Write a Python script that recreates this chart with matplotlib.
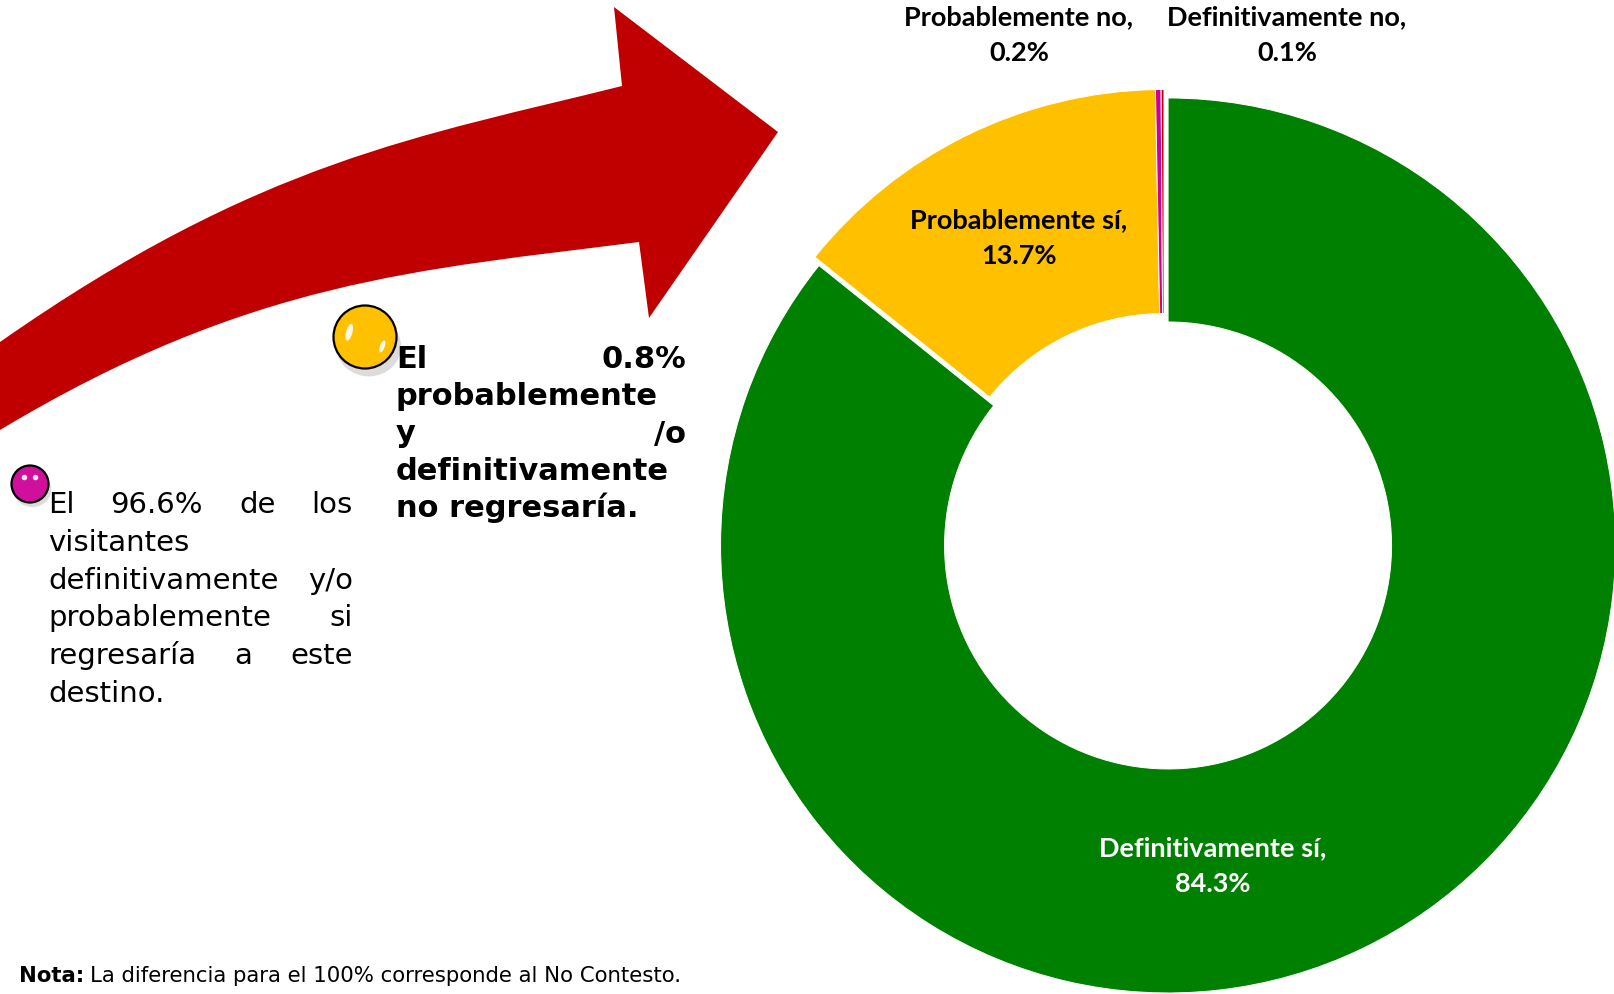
import matplotlib
matplotlib.use("Agg")
import matplotlib.pyplot as plt
from matplotlib.path import Path
from matplotlib.patches import PathPatch, Circle, Ellipse

# datos del grafico
categorias = ["Definitivamente sí", "Probablemente sí", "Probablemente no", "Definitivamente no"]
porcentajes = [84.3, 13.7, 0.2, 0.1]
colores = ["#008000", "#FFC000", "#CC0099", "#C00000"]

texto_si = [["El", "96.6%", "de", "los"], ["visitantes"], ["definitivamente", "y/o"],
            ["probablemente", "si"], ["regresaría", "a", "este"], ["destino."]]
texto_no = [["El", "0.8%"], ["probablemente"], ["y", "/o"], ["definitivamente"],
            ["no", "regresaría."]]
nota = "La diferencia para el 100% corresponde al No Contesto."

W, H = 1614, 994
fig = plt.figure(figsize=(W / 100, H / 100), dpi=100)
ax = fig.add_axes([0, 0, 1, 1])


def justify(ax, lines, x0, x1, y0, step, **kw):
    """Texto justificado: cada palabra se coloca a mano (matplotlib no justifica)."""
    r = ax.figure.canvas.get_renderer()
    for i, words in enumerate(lines):
        y = y0 + i * step
        if len(words) == 1 or i == len(lines) - 1:
            ax.text(x0, y, " ".join(words), va="baseline", **kw)
            continue
        objs = [ax.text(0, y, w, va="baseline", **kw) for w in words]
        widths = [t.get_window_extent(r).width for t in objs]
        gap = (x1 - x0 - sum(widths)) / (len(words) - 1)
        x = x0
        for t, w in zip(objs, widths):
            t.set_x(x)
            x += w + gap


def esfera(ax, x, y, r, color, brillos):
    ax.add_patch(Ellipse((x + r * 0.12, y + r * 0.3), 2.05 * r, 1.9 * r, color="0.55", alpha=0.3, lw=0))
    ax.add_patch(Circle((x, y), r, facecolor=color, edgecolor="black", lw=1.6))
    for dx, dy, w, h, a in brillos:
        ax.add_patch(Ellipse((x + dx * r, y + dy * r), w * r, h * r, angle=a, color="white", alpha=0.9, lw=0))


# flecha roja curva (pixeles de la imagen, y hacia abajo)
verts = [(-30, 438), (0, 430),
         (250, 280), (419, 270), (639, 242),
         (649, 318), (778, 132), (614, 7), (622, 86),
         (422, 136), (260, 160), (0, 342),
         (-30, 362), (-30, 438)]
codes = [Path.MOVETO, Path.LINETO,
         Path.CURVE4, Path.CURVE4, Path.CURVE4,
         Path.LINETO, Path.LINETO, Path.LINETO, Path.LINETO,
         Path.CURVE4, Path.CURVE4, Path.CURVE4,
         Path.LINETO, Path.CLOSEPOLY]
ax.add_patch(PathPatch(Path(verts, codes), facecolor="#C00000", edgecolor="none"))

# dona: eje y invertido, asi que startangle=-90 + counterclock=True queda arriba y en sentido horario
ax.pie(porcentajes, colors=colores, startangle=-90, counterclock=True,
       radius=447.5, center=(1164, 537), explode=[9.4, 0, 0, 0],
       wedgeprops=dict(width=224, edgecolor="white", linewidth=0.7))
ax.set_xlim(0, W)
ax.set_ylim(H, 0)
ax.set_aspect("equal")
ax.axis("off")

# etiquetas de la dona
etiquetas = [(1213, 848, "white"), (1019, 220, "black"), (1019, 17, "black"), (1287, 17, "black")]
for (x, y, c), cat, p in zip(etiquetas, categorias, porcentajes):
    ax.text(x, y, cat + ",", ha="center", va="center", color=c, fontsize=19.5,
            fontweight="bold", family="Lato")
    ax.text(x, y + 36, f"{p}%", ha="center", va="center", color=c, fontsize=19.5,
            fontweight="bold", family="Lato")

# vinetas y textos
esfera(ax, 365, 337, 31.5, "#FFC000", [(-0.5, -0.15, 0.2, 0.55, 15), (0.55, 0.3, 0.15, 0.4, 20)])
esfera(ax, 30, 484, 18.5, "#D0109C", [(-0.3, -0.35, 0.3, 0.3, 0), (0.3, -0.35, 0.3, 0.3, 0)])

justify(ax, texto_si, 48, 353, 513, 37.8, fontsize=21, family="DejaVu Sans", color="black")
justify(ax, texto_no, 396, 686, 368, 37.25, fontsize=22, family="DejaVu Sans",
        fontweight="bold", color="black")

r = fig.canvas.get_renderer()
t = ax.text(19, 982, "Nota:", fontsize=15.3, fontweight="bold", va="baseline")
ax.text(19 + t.get_window_extent(r).width + 6, 982, nota, fontsize=15.3, va="baseline")

fig.savefig("out.png", dpi=100)
